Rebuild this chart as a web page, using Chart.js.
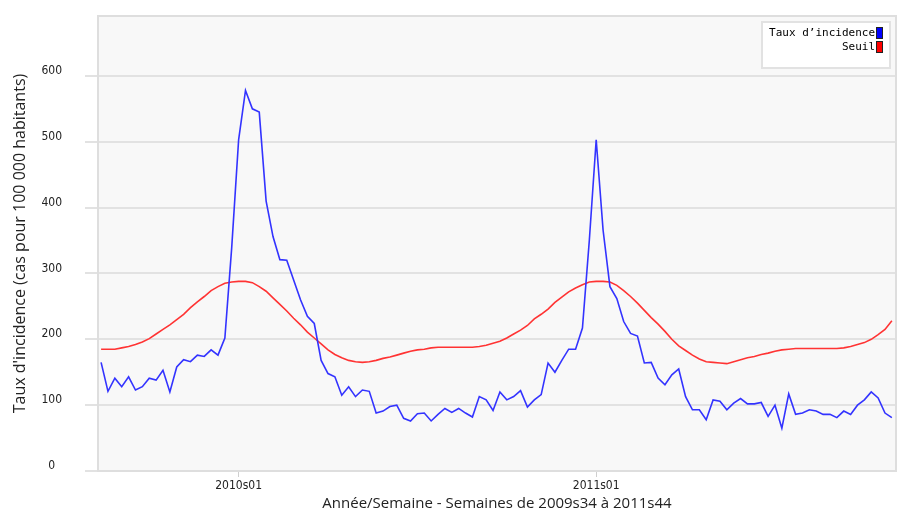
<!DOCTYPE html>
<html>
<head>
<meta charset="utf-8">
<script src="https://cdn.jsdelivr.net/npm/chart.js@4"></script>
<style>
  body { margin: 0; background: #fff; }
  canvas { display: block; }
</style>
</head>
<body>
<canvas id="incidenceChart" width="897" height="513"></canvas>
<script>
// Weeks 2009s34 .. 2011s44 (2009 has 53 ISO weeks)
const weeks = [];
for (let w = 34; w <= 53; w++) weeks.push("2009s" + w);
for (let w = 1; w <= 52; w++) weeks.push("2010s" + String(w).padStart(2, "0"));
for (let w = 1; w <= 44; w++) weeks.push("2011s" + String(w).padStart(2, "0"));

// Taux d'incidence
const incidence = [
  165, 121, 141, 128, 143, 123, 128, 141, 138, 153,
  120, 158, 169, 166, 176, 174, 184, 176, 202, 340,
  503, 578, 550, 545, 410, 356, 321, 320, 290, 260,
  235, 224, 168, 148, 143, 115, 128, 113, 123, 121,
  88, 91, 98, 100, 80, 76, 87, 88, 76, 86,
  95, 89, 95, 88, 82, 113, 108, 92, 120, 108,
  113, 122, 97, 108, 116, 164, 150, 168, 185, 185,
  217, 350, 503, 366, 280, 262, 227, 209, 205, 164,
  165, 141, 131, 146, 155, 113, 93, 93, 78, 108,
  106, 93, 103, 110, 102, 102, 104, 83, 100, 65,
  117, 86, 88, 93, 91, 86, 86, 81, 91, 86,
  100, 108, 120, 111, 88, 81
];

// Seuil épidémique
const threshold = [
  185, 185, 185, 187, 189, 192, 196, 201, 208, 215,
  222, 230, 238, 248, 257, 265, 274, 280, 285, 287,
  288, 288, 286, 280, 273, 263, 253, 243, 232, 222,
  211, 202, 193, 184, 177, 172, 168, 166, 165, 166,
  168, 171, 173, 176, 179, 182, 184, 185, 187, 188,
  188, 188, 188, 188, 188, 189, 191, 194, 197, 202,
  208, 214, 221, 231, 238, 246, 256, 264, 272, 278,
  283, 287, 288, 288, 287, 282, 274, 265, 255, 244,
  233, 223, 212, 200, 190, 183, 176, 170, 166, 165,
  164, 163, 166, 169, 172, 174, 177, 179, 182, 184,
  185, 186, 186, 186, 186, 186, 186, 186, 187, 189,
  192, 195, 200, 207, 215, 228
];

const seriesNames = ["Taux d\u2019incidence", "Seuil"];
const yTicks = [0, 100, 200, 300, 400, 500, 600];

const tickFont = { family: "'Liberation Sans Narrow', 'DejaVu Sans Condensed', sans-serif", size: 12 };

// plot background and outer frame
const plotFrame = {
  id: "plotFrame",
  beforeDraw(chart) {
    const { ctx, chartArea: a } = chart;
    ctx.save();
    ctx.fillStyle = "#f8f8f8";
    ctx.fillRect(a.left, a.top, a.right - a.left, a.bottom - a.top);
    ctx.restore();
  },
  afterDatasetsDraw(chart) {
    const { ctx, chartArea: a } = chart;
    ctx.save();
    ctx.strokeStyle = "#dedede";
    ctx.lineWidth = 2;
    ctx.strokeRect(a.left, a.top, a.right - a.left, a.bottom - a.top);
    ctx.restore();
  }
};

// legend box in the top right corner, text right aligned before the colour square
const cornerLegend = {
  id: "cornerLegend",
  afterDraw(chart) {
    const { ctx, chartArea: a } = chart;
    const right = a.right - 6, top = a.top + 6;
    ctx.save();
    ctx.fillStyle = "#fff";
    ctx.fillRect(right - 128, top, 128, 46);
    ctx.strokeStyle = "#e2e2e2";
    ctx.lineWidth = 2;
    ctx.strokeRect(right - 128, top, 128, 46);
    ctx.font = "11px 'DejaVu Sans Mono', monospace";
    ctx.textAlign = "right";
    ctx.textBaseline = "middle";
    chart.data.datasets.forEach((ds, i) => {
      const y = top + 11 + i * 14;
      ctx.fillStyle = "#000";
      ctx.fillText(ds.label, right - 15, y);
      ctx.fillStyle = ds.legendColor;
      ctx.fillRect(right - 14, y - 6, 7, 12);
      ctx.strokeStyle = "#222";
      ctx.lineWidth = 1;
      ctx.strokeRect(right - 13.5, y - 5.5, 6, 11);
    });
    ctx.restore();
  }
};

const ctx = document.getElementById("incidenceChart").getContext("2d");
new Chart(ctx, {
  type: "line",
  data: {
    datasets: [
      {
        label: seriesNames[0],
        data: incidence.map((v, i) => ({ x: i, y: v })),
        borderColor: "#3333ff",
        legendColor: "#0000ff",
        borderWidth: 1.6,
        pointRadius: 0,
        tension: 0
      },
      {
        label: seriesNames[1],
        data: threshold.map((v, i) => ({ x: i, y: v })),
        borderColor: "#ff3333",
        legendColor: "#ff0000",
        borderWidth: 1.6,
        pointRadius: 0,
        tension: 0
      }
    ]
  },
  options: {
    responsive: false,
    animation: false,
    layout: { padding: { top: 16, right: 1, bottom: 0, left: 0 } },
    plugins: {
      legend: { display: false },
      tooltip: { enabled: false }
    },
    scales: {
      x: {
        type: "linear",
        min: -0.45,
        max: 115.6,
        afterBuildTicks: scale => {
          scale.ticks = weeks
            .map((w, i) => ({ value: i }))
            .filter(t => weeks[t.value].endsWith("s01"));
        },
        afterFit: scale => {
          scale.height = 42;
          scale.paddingLeft = 0;
          scale.paddingRight = 0;
        },
        ticks: {
          callback: v => weeks[v],
          font: tickFont,
          color: "#222",
          padding: 2,
          maxRotation: 0,
          autoSkip: false
        },
        grid: { drawOnChartArea: false, drawTicks: true, tickLength: 6, color: "#cfcfcf" },
        border: { display: false },
        title: {
          display: true,
          text: "Année/Semaine - Semaines de 2009s34 à 2011s44",
          font: { family: "'Open Sans', sans-serif", size: 15 },
          color: "#222",
          padding: { top: 0, bottom: 0 }
        }
      },
      y: {
        min: 0,
        max: 691,
        afterBuildTicks: scale => {
          scale.ticks = yTicks.map(v => ({ value: v }));
        },
        afterFit: scale => {
          scale.width = 98;
          scale.paddingTop = 0;
          scale.paddingBottom = 0;
        },
        ticks: {
          font: tickFont,
          color: "#222",
          padding: 23,
          labelOffset: -5,
          crossAlign: "center"
        },
        grid: { color: "#e2e2e2", lineWidth: 2, tickLength: 13 },
        border: { display: false },
        title: {
          display: true,
          text: "Taux d'incidence (cas pour 100 000 habitants)",
          font: { family: "'Open Sans', sans-serif", size: 16 },
          color: "#222",
          padding: { top: 11, bottom: 0 }
        }
      }
    }
  },
  plugins: [plotFrame, cornerLegend]
});
</script>
</body>
</html>
